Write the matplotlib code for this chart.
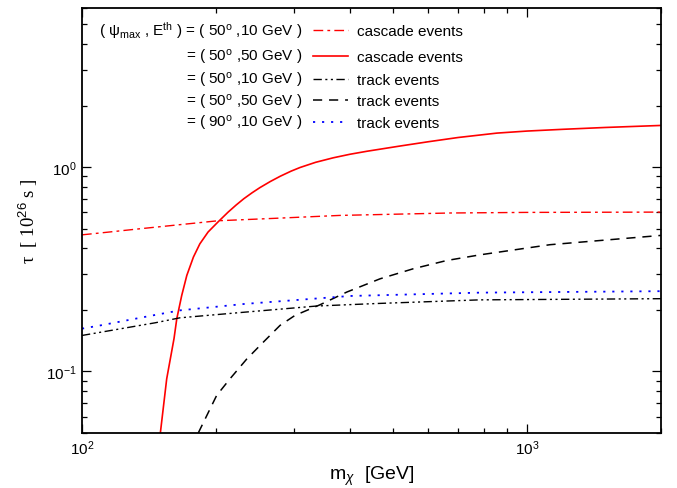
import matplotlib
matplotlib.use("Agg")
import matplotlib.pyplot as plt
from matplotlib.lines import Line2D
from matplotlib.ticker import LogLocator, LogFormatterMathtext, NullFormatter

plt.rcParams['font.family'] = ['Liberation Sans', 'DejaVu Sans']
plt.rcParams['mathtext.fontset'] = 'custom'
plt.rcParams['mathtext.rm'] = 'Liberation Sans'
plt.rcParams['mathtext.it'] = 'Liberation Sans:italic'
plt.rcParams['mathtext.bf'] = 'Liberation Sans:bold'
plt.rcParams['axes.unicode_minus'] = False

# ---- data ----
m_casc10 = [100, 110, 135, 202, 270, 380, 672, 1000, 2000]
tau_casc10 = [0.466, 0.476, 0.499, 0.546, 0.561, 0.580, 0.596, 0.600, 0.602]

m_casc50 = [150, 155, 161, 163.3, 167.5, 172, 178, 184, 192, 202, 213, 222, 231, 241,
            251, 265, 279, 295, 309, 335, 367, 400, 437, 518, 600, 700, 856, 1000,
            1205, 1500, 2000]
tau_casc50 = [0.050, 0.092, 0.145, 0.181, 0.235, 0.295, 0.363, 0.421, 0.481, 0.538,
              0.602, 0.652, 0.700, 0.748, 0.793, 0.850, 0.902, 0.955, 0.995, 1.055,
              1.110, 1.155, 1.195, 1.267, 1.330, 1.395, 1.466, 1.500, 1.530, 1.562,
              1.598]

m_track10 = [100, 146, 166, 232, 337, 460, 783, 2000]
tau_track10 = [0.150, 0.173, 0.183, 0.195, 0.209, 0.215, 0.224, 0.227]

m_track50 = [182.5, 200.7, 215, 234.5, 253.4, 278.6, 301, 342.7, 393.6, 467.5, 555,
             660, 784, 1126, 2000]
tau_track50 = [0.050, 0.0763, 0.092, 0.115, 0.1366, 0.168, 0.188, 0.212, 0.2446,
               0.284, 0.318, 0.349, 0.372, 0.417, 0.463]

m_track90 = [100, 110, 146, 166, 232, 400, 783, 2000]
tau_track90 = [0.162, 0.168, 0.189, 0.199, 0.214, 0.234, 0.243, 0.247]

left_texts = [r"( ψ$_{\rm max}$ , E$^{\rm th}$ ) = ( 50$^{\rm o}$ ,10 GeV )",
              r"= ( 50$^{\rm o}$ ,50 GeV )",
              r"= ( 50$^{\rm o}$ ,10 GeV )",
              r"= ( 50$^{\rm o}$ ,50 GeV )",
              r"= ( 90$^{\rm o}$ ,10 GeV )"]
right_texts = ["cascade events", "cascade events", "track events",
               "track events", "track events"]

# ---- styles ----
styles = [
    dict(color='red', lw=1.0, ls=(0, (7, 3, 2, 3))),
    dict(color='red', lw=1.2, ls='-'),
    dict(color='black', lw=1.0, ls=(0, (6, 2.5, 1.5, 2.5, 1.5, 2.5))),
    dict(color='black', lw=1.1, ls=(0, (6, 4.5))),
    dict(color='blue', lw=1.3, ls=(0, (1.2, 3.8))),
]
series = [(m_casc10, tau_casc10), (m_casc50, tau_casc50), (m_track10, tau_track10),
          (m_track50, tau_track50), (m_track90, tau_track90)]

fig = plt.figure(figsize=(6.77, 4.89), dpi=100)
ax = fig.add_axes([0.1211, 0.1125, 0.8553, 0.8691])

for (mx, ty), st in zip(series, styles):
    ax.plot(mx, ty, **st)

ax.set_xscale('log')
ax.set_yscale('log')
ax.set_xlim(100, 2000)
ax.set_ylim(0.05, 6.0)

for axis in (ax.xaxis, ax.yaxis):
    axis.set_major_locator(LogLocator(base=10))
    axis.set_minor_locator(LogLocator(base=10, subs=range(2, 10)))
    axis.set_major_formatter(LogFormatterMathtext())
    axis.set_minor_formatter(NullFormatter())

ax.tick_params(which='both', direction='in', top=True, right=True, labelsize=11)
ax.tick_params(which='major', length=6.5, width=0.9, pad=4)
ax.tick_params(which='minor', length=3.6, width=0.9)
for sp in ax.spines.values():
    sp.set_linewidth(1.3)

ax.set_xlabel(r"m$_{\chi}$  [GeV]", fontsize=14, labelpad=5)
ax.set_ylabel(r"τ  [ 10$^{26}$ s ]", fontsize=13.5,
              family=['Liberation Serif', 'DejaVu Serif'])
ax.yaxis.set_label_coords(-0.072, 0.5)

# ---- legend-like annotation ----
rows_y = [0.949, 0.888, 0.834, 0.783, 0.732]
off = 5.0 / 425
for yy, lt, rt, st in zip(rows_y, left_texts, right_texts, styles):
    ax.text(0.380, yy - off, lt, transform=ax.transAxes, ha='right', va='baseline',
            fontsize=11)
    ax.add_line(Line2D([0.399, 0.459], [yy, yy], transform=ax.transAxes, **st))
    ax.text(0.475, yy - off, rt, transform=ax.transAxes, ha='left', va='baseline',
            fontsize=11)

fig.savefig("out.png", dpi=100)
